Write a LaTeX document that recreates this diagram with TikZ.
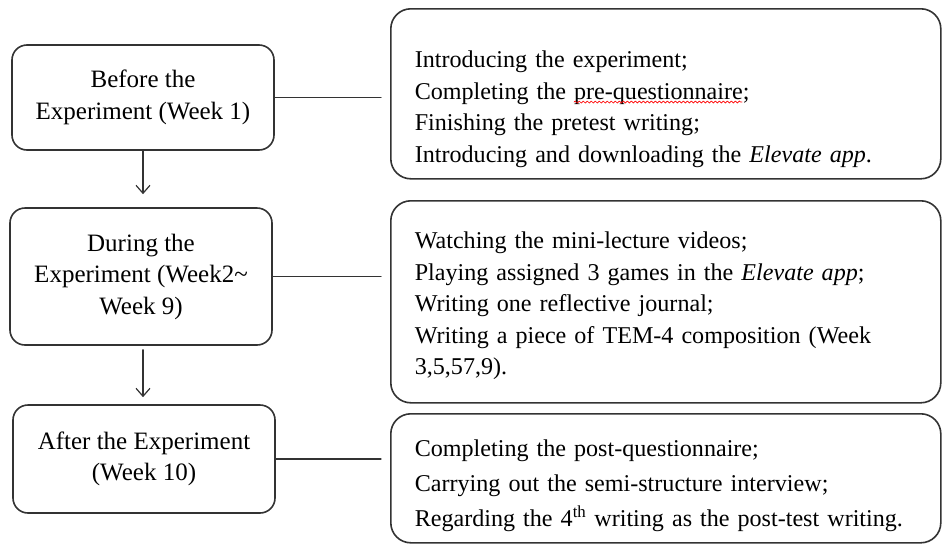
\documentclass[tikz,border=0pt]{standalone}
\usepackage{fontspec}
\setmainfont{Liberation Serif}
\usetikzlibrary{arrows.meta,decorations.pathmorphing,calc}
\begin{document}
\begin{tikzpicture}[x=1pt,y=-1pt,line cap=round,line join=round,
  every node/.style={font=\fontsize{24.1}{31.5}\selectfont},
  stage/.style={draw=black!80,line width=1.6pt,rounded corners=15pt,minimum width=262pt,align=center,inner sep=2pt,font=\fontsize{25}{31.5}\selectfont},
  task/.style={draw=black!80,line width=1.6pt,rounded corners=20pt,anchor=north west,text width=502pt,inner xsep=24pt,inner ysep=0pt,align=left},
  link/.style={line width=1.2pt,draw=black!80},
  spellwave/.style={red,line width=0.7pt,decorate,decoration={snake,segment length=4pt,amplitude=1pt}}]
  \useasboundingbox (0,0) rectangle (942,544);
  \node[stage,minimum height=105pt] (before) at (143,97.5) {Before the\\Experiment (Week 1)};
  \node[stage,minimum height=137pt] (during) at (141,276.5) {During the\\Experiment (Week2\textasciitilde\\Week 9)};
  \node[stage,minimum height=108pt] (after) at (144,459) {After the Experiment\\(Week 10)};
  \node[task,text height=59pt,text depth=111pt] (beforetasks) at (390,8) {Introducing the experiment;\\Completing the pre-questionnaire;\\Finishing the pretest writing;\\Introducing and downloading the \textit{Elevate app}.};
  \node[task,text height=48pt,text depth=154pt] (duringtasks) at (390,200) {Watching the mini-lecture videos;\\Playing assigned 3 games in the \textit{Elevate app};\\Writing one reflective journal;\\Writing a piece of TEM-4 composition (Week\\3,5,57,9).};
  \node[task,text height=43pt,text depth=86pt,font=\fontsize{24.1}{35}\selectfont] (aftertasks) at (390,413) {Completing the post-questionnaire;\\Carrying out the semi-structure interview;\\Regarding the 4\textsuperscript{th} writing as the post-test writing.};
  \draw[spellwave] ($(beforetasks.north west)+(184,94)$) -- ++(168,0);
  \draw[link] (before.east) -- (before.east -| beforetasks.west) [shorten >=9pt];
  \draw[link] (during.east) -- (during.east -| duringtasks.west) [shorten >=9pt];
  \draw[link] (after.east) -- (after.east -| aftertasks.west) [shorten >=9pt];
  \draw[link,-{Straight Barb[length=8pt,width=14pt]},shorten >=13pt] (before.south -| 143,0) -- (during.north -| 143,0);
  \draw[link,-{Straight Barb[length=8pt,width=14pt]},shorten <=4pt,shorten >=7pt] (during.south -| 143,0) -- (after.north -| 143,0);
\end{tikzpicture}
\end{document}
